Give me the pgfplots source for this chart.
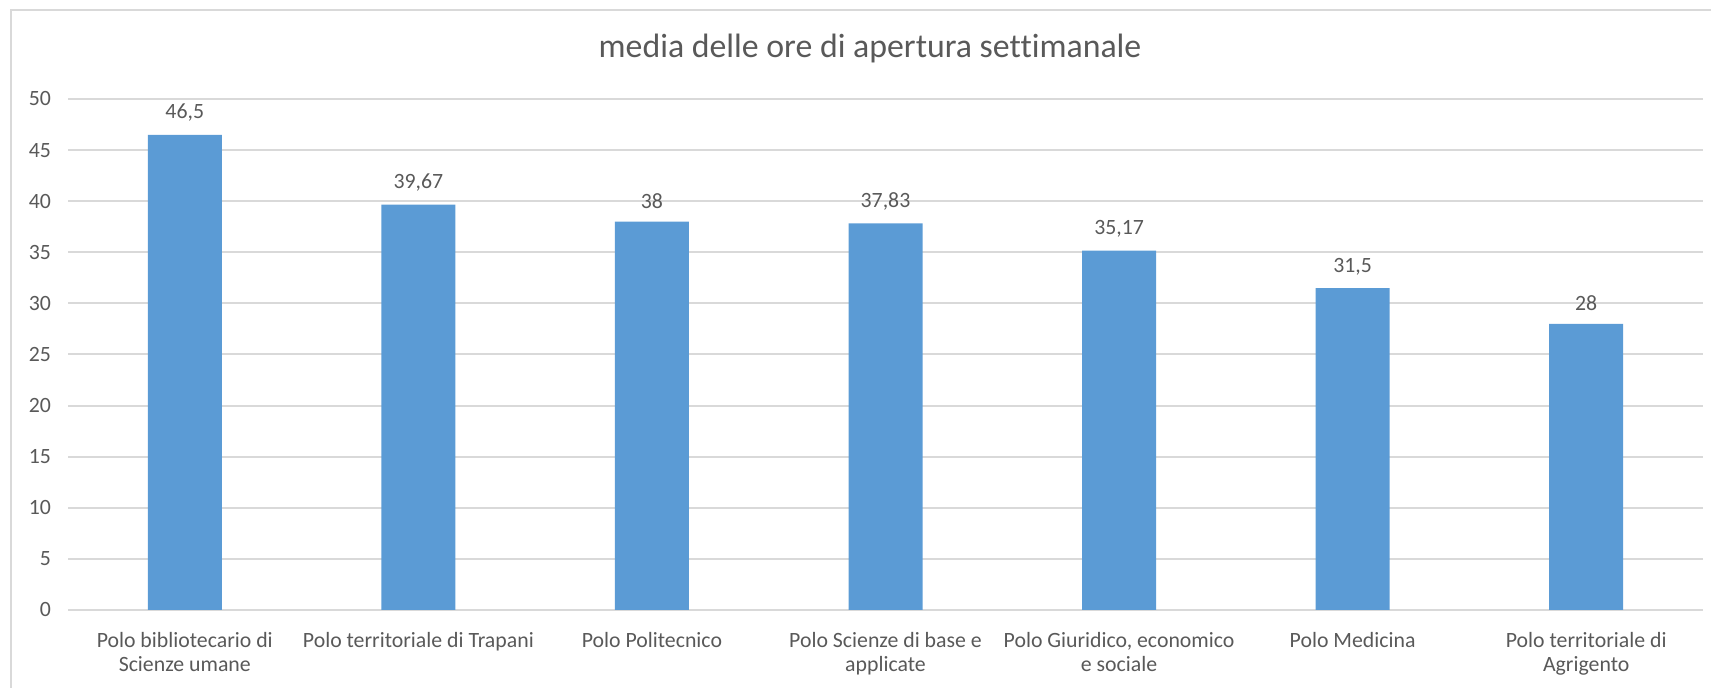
\documentclass[border=0pt]{standalone}
\usepackage{fontspec}
\setmainfont{Carlito}[Ligatures=NoCommon]
\usepackage{pgfplots}
\pgfplotsset{compat=1.18}
\definecolor{barblue}{HTML}{5B9BD5}
\definecolor{txt}{HTML}{595959}
\definecolor{gridc}{HTML}{D9D9D9}
\begin{document}
\begin{tikzpicture}
\useasboundingbox (0,0) rectangle (855.5pt,344pt);
\draw[gridc, line width=1pt] (5.5pt,-10pt) -- (5.5pt,339pt) -- (870pt,339pt);
\begin{axis}[
  at={(34pt,39pt)}, anchor=south west,
  scale only axis, width=817.5pt, height=255.5pt,
  xmin=-0.5, xmax=6.5, ymin=0, ymax=50,
  ytick={0,5,...,50},
  xtick={0,1,2,3,4,5,6},
  xticklabels={{Polo bibliotecario di\\Scienze umane},{Polo territoriale di Trapani},{Polo Politecnico},{Polo Scienze di base e\\applicate},{Polo Giuridico, economico\\e sociale},{Polo Medicina},{Polo territoriale di\\Agrigento}},
  x tick label style={align=center, font=\fontsize{10.9}{12.2}\selectfont, text=txt, yshift=-7.5pt},
  y tick label style={font=\fontsize{10.9}{12}\selectfont, text=txt, xshift=-5pt},
  /pgf/number format/assume math mode=true,
  major tick length=0pt,
  ymajorgrids, grid style={draw=gridc, line width=1pt},
  axis line style={draw=none},
  nodes near coords,
  nodes near coords style={font=\fontsize{10.9}{12}\selectfont, text=txt, yshift=3pt,
    /pgf/number format/.cd, use comma, fixed, precision=2},
]
\addplot[ybar, bar width=37pt, fill=barblue, draw=none] coordinates {
 (0,46.5) (1,39.67) (2,38) (3,37.83) (4,35.17) (5,31.5) (6,28)
};
\end{axis}
\node[font=\fontsize{16.9}{19}\selectfont, text=txt] at (435pt,319.5pt) {media delle ore di apertura settimanale};
\end{tikzpicture}
\end{document}
